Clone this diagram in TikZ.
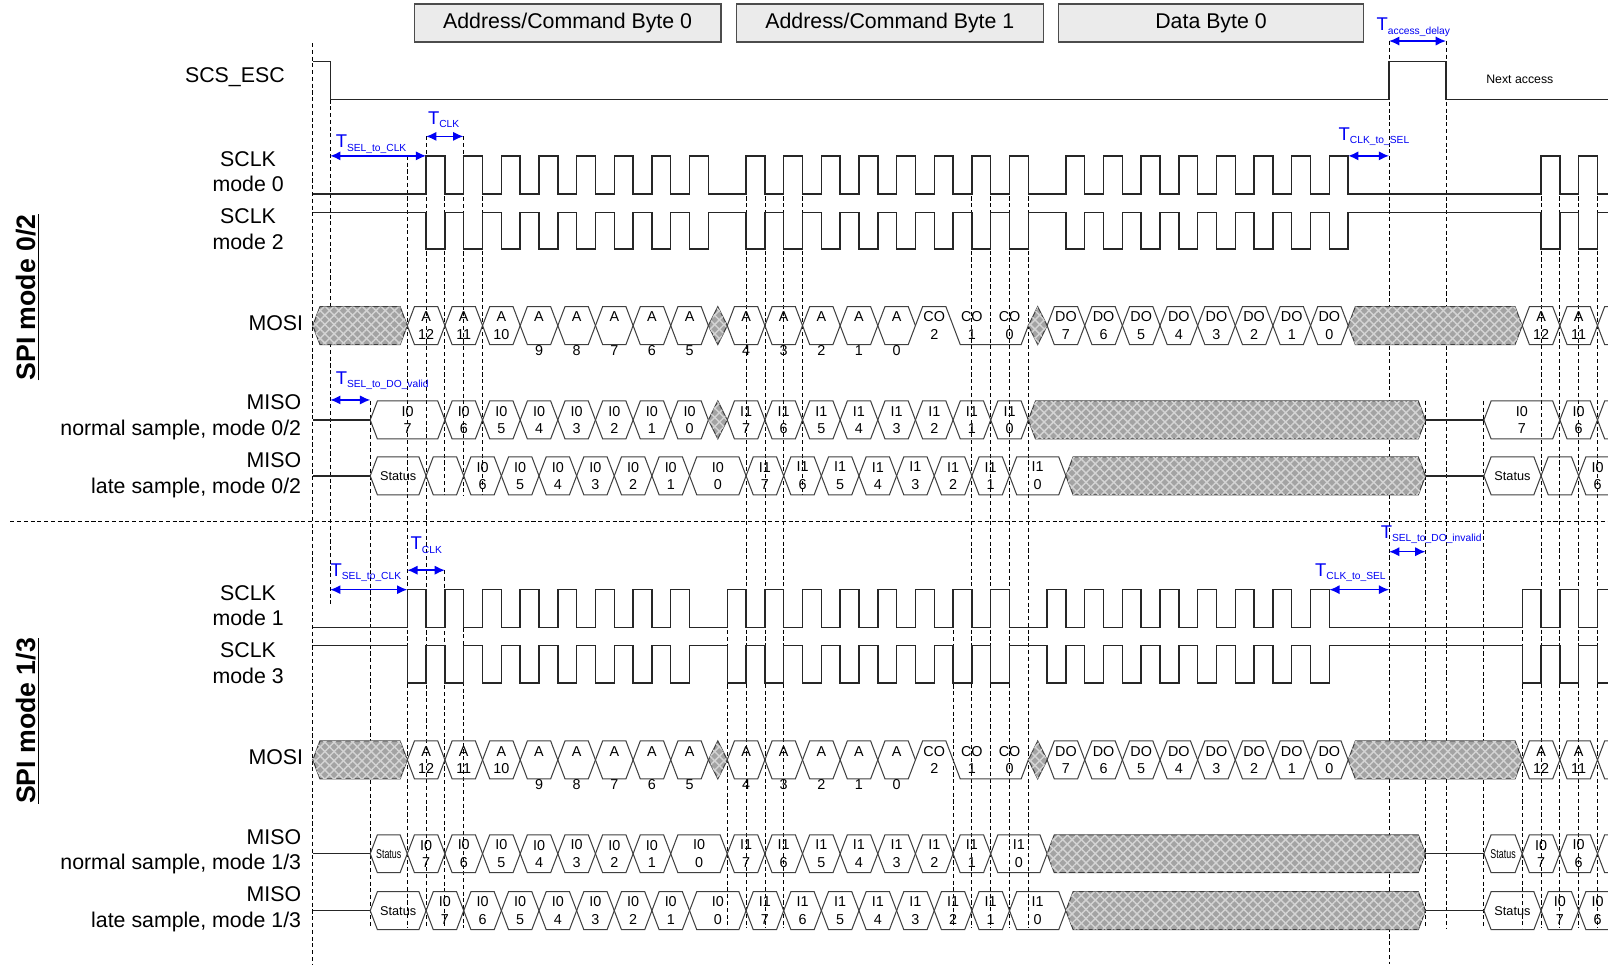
\documentclass[tikz,border=0pt]{standalone}
\usepackage{fontspec}
\setmainfont{Liberation Sans}
\usepackage{graphicx}
\usetikzlibrary{arrows.meta,positioning,patterns.meta}

\definecolor{boxgrey}{HTML}{EBEBEB}
\definecolor{tblue}{HTML}{0000F5}

\newcounter{cellno}
\newcommand\lblfont{\fontsize{10.4}{12.5}\selectfont}
\newcommand\cellfont{\fontsize{7}{8.5}\selectfont}
\newcommand\statfont{\fontsize{6.2}{7}\selectfont}
\newcommand\nstatus{\scalebox{0.7}[1]{\statfont Status}}
\newcommand\tlab[1]{T\raisebox{-0.35ex}{\fontsize{5}{5}\selectfont #1}}

% text inside a bus cell
\newcommand\celllabel[3]{%
  \stepcounter{cellno}%
  \node[celltext] (cell\arabic{cellno}) at ({#1},{#2}) {#3};}
% bus cell: left x, width, mid y, text
\newcommand\hexcell[4]{%
  \draw[cellline] ({#1},{#3}) -- ({#1+7},{#3-18.5}) -- ({#1+#2-7},{#3-18.5})
    -- ({#1+#2},{#3}) -- ({#1+#2-7},{#3+18.5}) -- ({#1+7},{#3+18.5}) -- cycle;
  \celllabel{#1+#2/2}{#3}{#4}}
% cell running off the right edge
\newcommand\edgecell[3]{%
  \draw[cellline] ({#1},{#3}) -- ({#1+7},{#3-18.5}) -- ({#1+#2},{#3-18.5})
    ({#1},{#3}) -- ({#1+7},{#3+18.5}) -- ({#1+#2},{#3+18.5});}
% address cell with the digit under the edge
\newcommand\acell[4]{%
  \hexcell{#1}{#2}{#3}{}%
  \celllabel{#1+#2/2}{#3-8.5}{A}%
  \celllabel{#1+#2/2}{#3+24}{#4}}
% undefined data
\newcommand\greycell[3]{%
  \draw[hatch] ({#1},{#3}) -- ({#1+7},{#3-18.5}) -- ({#1+#2-7},{#3-18.5})
    -- ({#1+#2},{#3}) -- ({#1+#2-7},{#3+18.5}) -- ({#1+7},{#3+18.5}) -- cycle;}
\newcommand\greydia[3]{%
  \draw[hatch] ({#1},{#3}) -- ({#1+#2/2},{#3-18.5}) -- ({#1+#2},{#3})
    -- ({#1+#2/2},{#3+18.5}) -- cycle;}
% clock: idle y, pulse y, shift
\newcommand\sclk[3]{%
  \draw[wave] (305,#1)
    \foreach \st in {415.5,727.5,1039.4}{
      \foreach \kk in {0,...,7}{
        -- ({\st+\kk*36.7+(#3)},#1) -- ({\st+\kk*36.7+(#3)},#2)
        -- ({\st+\kk*36.7+18.35+(#3)},#2) -- ({\st+\kk*36.7+18.35+(#3)},#1)}}
    \foreach \st in {1502.7,1539.4,1576.1}{
        -- ({\st+(#3)},#1) -- ({\st+(#3)},#2)
        -- ({\st+18.35+(#3)},#2) -- ({\st+18.35+(#3)},#1)}
    -- (1600,#1);}
% MOSI bus, mid y
\newcommand\mosirow[1]{%
  \greycell{305}{92.15}{#1}
  \hexcell{397.15}{36.7}{#1}{A\\12}
  \hexcell{433.85}{36.7}{#1}{A\\11}
  \hexcell{470.55}{36.7}{#1}{A\\10}
  \foreach \dg [count=\jj from 3] in {9,8,7,6,5}{\acell{397.15+\jj*36.7}{36.7}{#1}{\dg}}
  \greydia{690.75}{18.4}{#1}
  \foreach \dg [count=\jj from 0] in {4,3,2,1,0}{\acell{709.15+\jj*36.7}{36.7}{#1}{\dg}}
  \draw[cellline] (892.65,#1) -- (899.65,{#1-18.5}) -- (922.35,{#1-18.5})
    -- (936.35,{#1+18.5}) -- (995.75,{#1+18.5}) -- (1002.75,#1);
  \celllabel{911}{#1}{CO\\2}
  \celllabel{947.7}{#1}{CO\\1}
  \celllabel{984.4}{#1}{CO\\0}
  \greydia{1002.75}{18.3}{#1}
  \foreach \dg [count=\jj from 0] in {7,6,5,4,3,2,1,0}{\hexcell{1021.05+\jj*36.7}{36.7}{#1}{DO\\\dg}}
  \greycell{1314.65}{169.7}{#1}
  \hexcell{1484.35}{36.7}{#1}{A\\12}
  \hexcell{1521.05}{36.7}{#1}{A\\11}
  \edgecell{1557.75}{30}{#1}}

\begin{document}
\begin{tikzpicture}[x=0.5pt,y=-0.5pt,
  wave/.style={line width=0.7pt, black!85},
  cellline/.style={line width=0.5pt, draw=black!75},
  celltext/.style={font=\cellfont, align=center, inner sep=0pt},
  hatch/.style={draw=black!75, line width=0.5pt, fill=black!36,
    postaction={pattern={Lines[angle=45,distance=3.2pt,line width=0.7pt]}, pattern color=black!17},
    postaction={pattern={Lines[angle=-45,distance=3.2pt,line width=0.7pt]}, pattern color=black!17}},
  guide/.style={line width=0.45pt, dash pattern=on 2pt off 1.3pt},
  tarrow/.style={{Latex[length=5pt,width=4.5pt]}-{Latex[length=5pt,width=4.5pt]}, line width=0.7pt, tblue},
  tlabel/.style={font=\fontsize{9}{9}\selectfont, text=tblue, anchor=base west, inner sep=0pt},
  sigtext/.style={font=\lblfont, align=center, anchor=east, inner sep=0pt},
  misotext/.style={font=\lblfont, align=right, anchor=east, inner sep=0pt},
  bytebox/.style={draw=black!70, fill=boxgrey, line width=0.6pt, minimum width=149.5pt,
    minimum height=18.5pt, inner sep=0pt, font=\lblfont}]
\fill[white] (0,0) rectangle (1568,941);
\useasboundingbox (0,0) rectangle (1568,941);

% byte boxes
\node[bytebox] (byte0) at (553.5,22.5) {Address/Command Byte 0};
\node[bytebox, right=7pt of byte0] (byte1) {Address/Command Byte 1};
\node[bytebox, right=7pt of byte1, minimum width=148.5pt] (byte2) {Data Byte 0};

% guide lines
\foreach \x/\ya/\yb in {305/42/940, 322/97/590, 361/391/905, 397.15/152/905, 415.5/133/905,
    433.85/152/483, 433.85/556/905, 451.85/133/483, 451.85/612/905, 470.55/152/483,
    709.15/575/905, 727.5/152/905, 746.2/152/905, 764.2/152/905, 782.55/152/483,
    929.35/575/905, 947.7/152/905, 966.05/152/905, 984.4/152/905, 1002.75/152/905,
    1354.5/40/940, 1390/391/905, 1410/40/905, 1447/391/905, 1484.35/575/905,
    1502.7/152/905, 1521.05/152/905, 1539.4/152/905, 1557.75/152/905}
  \draw[guide] (\x,\ya) -- (\x,\yb);
\draw[guide] (10,508.5) -- (1568,508.5);

% signal names
\node[rotate=90, font=\fontsize{13}{15}\selectfont\bfseries] (spi02) at (27,290) {\underline{SPI mode 0/2}};
\node[rotate=90, font=\fontsize{13}{15}\selectfont\bfseries] (spi13) at (27,703) {\underline{SPI mode 1/3}};
\node[sigtext] (scs) at (278,75) {SCS\_ESC};
\node[sigtext] (sclk0) at (277,167.5) {SCLK\\mode 0};
\node[sigtext] (sclk2) at (277,223.5) {SCLK\\mode 2};
\node[sigtext] (mosi02) at (296,315) {MOSI};
\node[misotext] (misoa) at (294,407) {MISO\\normal sample, mode 0/2};
\node[misotext] (misob) at (294,463.5) {MISO\\late sample, mode 0/2};
\node[sigtext] (sclk1) at (277,590.5) {SCLK\\mode 1};
\node[sigtext] (sclk3) at (277,646.5) {SCLK\\mode 3};
\node[sigtext] (mosi13) at (296,738) {MOSI};
\node[misotext] (misoc) at (294,830.5) {MISO\\normal sample, mode 1/3};
\node[misotext] (misod) at (294,886.5) {MISO\\late sample, mode 1/3};
\node[font=\fontsize{6}{6}\selectfont] (next) at (1482,77) {Next access};

% chip select and clocks
\draw[wave] (305,60) -- (322,60) -- (322,97) -- (1354.5,97) -- (1354.5,60)
  -- (1410,60) -- (1410,97) -- (1600,97);
\sclk{189}{152}{0}
\sclk{207}{243}{0}
\sclk{612}{575}{-18.35}
\sclk{629.5}{666}{-18.35}

% MOSI
\mosirow{317.5}
\mosirow{741}

% MISO normal sample, mode 0/2
\draw[wave] (305,409.5) -- (361,409.5) (1390,409.5) -- (1447,409.5);
\hexcell{361}{72.85}{409.5}{I0\\7}
\foreach \dg [count=\jj from 0] in {6,5,4,3,2,1,0}{\hexcell{433.85+\jj*36.7}{36.7}{409.5}{I0\\\dg}}
\greydia{690.75}{18.4}{409.5}
\foreach \dg [count=\jj from 0] in {7,6,5,4,3,2,1,0}{\hexcell{709.15+\jj*36.7}{36.7}{409.5}{I1\\\dg}}
\greycell{1002.75}{387.25}{409.5}
\hexcell{1447}{74.05}{409.5}{I0\\7}
\hexcell{1521.05}{36.7}{409.5}{I0\\6}
\edgecell{1557.75}{30}{409.5}

% MISO late sample, mode 0/2
\draw[wave] (305,464) -- (361,464) (1390,464) -- (1447,464);
\hexcell{361}{54.5}{464}{\statfont Status}
\hexcell{415.5}{36.7}{464}{}
\foreach \dg [count=\jj from 0] in {6,5,4,3,2,1}{\hexcell{452.2+\jj*36.7}{36.7}{464}{I0\\\dg}}
\hexcell{672.4}{55.1}{464}{I0\\0}
\foreach \dg [count=\jj from 0] in {7,6,5,4,3,2,1}{\hexcell{727.5+\jj*36.7}{36.7}{464}{I1\\\dg}}
\hexcell{984.4}{55}{464}{I1\\0}
\greycell{1039.4}{350.6}{464}
\hexcell{1447}{55.7}{464}{\statfont Status}
\hexcell{1502.7}{36.7}{464}{}
\hexcell{1539.4}{36.7}{464}{I0\\6}

% MISO normal sample, mode 1/3
\draw[wave] (305,832.5) -- (361,832.5) (1390,832.5) -- (1447,832.5);
\hexcell{361}{36.15}{832.5}{\nstatus}
\foreach \dg [count=\jj from 0] in {7,6,5,4,3,2,1}{\hexcell{397.15+\jj*36.7}{36.7}{832.5}{I0\\\dg}}
\hexcell{654.05}{55.1}{832.5}{I0\\0}
\foreach \dg [count=\jj from 0] in {7,6,5,4,3,2,1}{\hexcell{709.15+\jj*36.7}{36.7}{832.5}{I1\\\dg}}
\hexcell{966.05}{55}{832.5}{I1\\0}
\greycell{1021.05}{368.95}{832.5}
\hexcell{1447}{37.35}{832.5}{\nstatus}
\hexcell{1484.35}{36.7}{832.5}{I0\\7}
\hexcell{1521.05}{36.7}{832.5}{I0\\6}
\edgecell{1557.75}{30}{832.5}

% MISO late sample, mode 1/3
\draw[wave] (305,888) -- (361,888) (1390,888) -- (1447,888);
\hexcell{361}{54.5}{888}{\statfont Status}
\foreach \dg [count=\jj from 0] in {7,6,5,4,3,2,1}{\hexcell{415.5+\jj*36.7}{36.7}{888}{I0\\\dg}}
\hexcell{672.4}{55.1}{888}{I0\\0}
\foreach \dg [count=\jj from 0] in {7,6,5,4,3,2,1}{\hexcell{727.5+\jj*36.7}{36.7}{888}{I1\\\dg}}
\hexcell{984.4}{55}{888}{I1\\0}
\greycell{1039.4}{350.6}{888}
\hexcell{1447}{55.7}{888}{\statfont Status}
\hexcell{1502.7}{36.7}{888}{I0\\7}
\hexcell{1539.4}{36.7}{888}{I0\\6}

% timing annotations
\coordinate (acc-a) at (1354.5,40);   \coordinate (acc-b) at (1410,40);
\coordinate (clk0-a) at (415.5,133);  \coordinate (clk0-b) at (451.85,133);
\coordinate (sel0-a) at (322,152);    \coordinate (sel0-b) at (415.5,152);
\coordinate (end0-a) at (1314.65,152); \coordinate (end0-b) at (1354.5,152);
\coordinate (val-a) at (322,390);     \coordinate (val-b) at (361,390);
\coordinate (clk1-a) at (397.15,556); \coordinate (clk1-b) at (433.85,556);
\coordinate (sel1-a) at (322,575);    \coordinate (sel1-b) at (397.15,575);
\coordinate (inv-a) at (1354.5,538);  \coordinate (inv-b) at (1390,538);
\coordinate (end1-a) at (1296.3,575); \coordinate (end1-b) at (1354.5,575);
\foreach \pa in {acc,clk0,sel0,end0,val,clk1,sel1,inv,end1}
  \draw[tarrow] (\pa-a) -- (\pa-b);
\node[tlabel] (lacc) at (1342,30) {\tlab{access\_delay}};
\node[tlabel] (lclk0) at (417,121) {\tlab{CLK}};
\node[tlabel] (lsel0) at (327,144) {\tlab{SEL\_to\_CLK}};
\node[tlabel] (lend0) at (1305,137) {\tlab{CLK\_to\_SEL}};
\node[tlabel] (lval) at (327,375) {\tlab{SEL\_to\_DO\_valid}};
\node[tlabel] (lclk1) at (400,536) {\tlab{CLK}};
\node[tlabel] (lsel1) at (322,562) {\tlab{SEL\_to\_CLK}};
\node[tlabel] (linv) at (1346,525) {\tlab{SEL\_to\_DO\_invalid}};
\node[tlabel] (lend1) at (1282,562) {\tlab{CLK\_to\_SEL}};
\end{tikzpicture}
\end{document}
